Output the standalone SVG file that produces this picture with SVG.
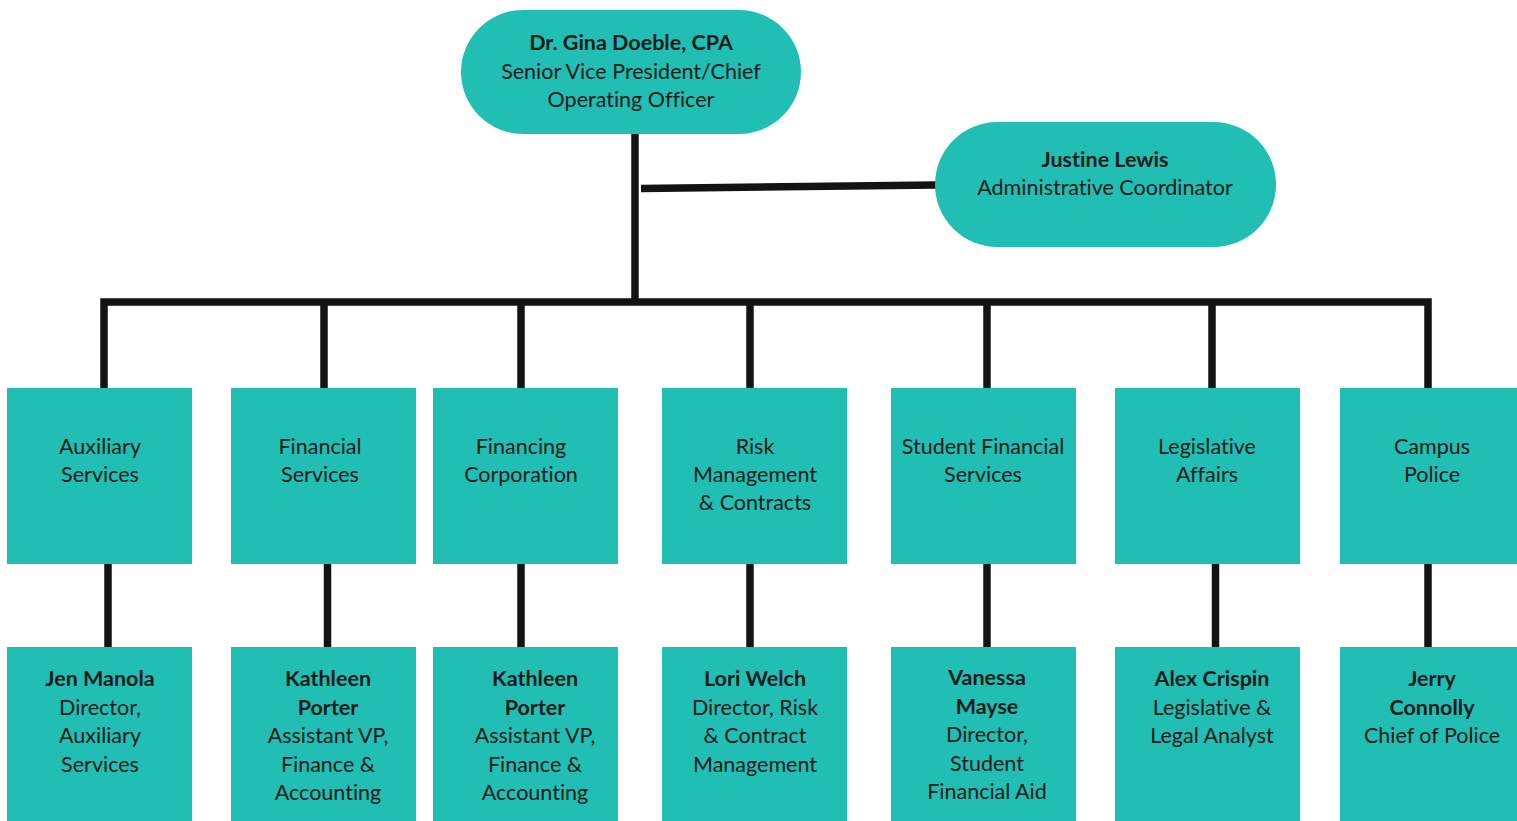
<svg xmlns="http://www.w3.org/2000/svg" width="1517" height="821" viewBox="0 0 1517 821">
<style>
.n{fill:#20beb3}
.t{font-family:Lato,"Open Sans","Liberation Sans",sans-serif;font-size:21.5px;fill:#141a1a;text-anchor:middle;font-variant-ligatures:none;font-feature-settings:"liga" 0}
.b{font-weight:bold}
.c{stroke:#131313;stroke-width:7.5;fill:none;stroke-linecap:butt}
</style>
<rect width="1517" height="821" fill="#fff"/>
<g id="connectors">
<line class="c" x1="635" y1="134" x2="635" y2="302"/>
<line class="c" x1="641" y1="188.5" x2="936" y2="185"/>
<polyline class="c" points="104,388 104,302 1428,302 1428,388"/>
<line class="c" x1="324" y1="302" x2="324" y2="388"/>
<line class="c" x1="521" y1="302" x2="521" y2="388"/>
<line class="c" x1="750" y1="302" x2="750" y2="388"/>
<line class="c" x1="987" y1="302" x2="987" y2="388"/>
<line class="c" x1="1212" y1="302" x2="1212" y2="388"/>
<line class="c" x1="108" y1="564" x2="108" y2="647"/>
<line class="c" x1="327.5" y1="564" x2="327.5" y2="647"/>
<line class="c" x1="521" y1="564" x2="521" y2="647"/>
<line class="c" x1="750" y1="564" x2="750" y2="647"/>
<line class="c" x1="987" y1="564" x2="987" y2="647"/>
<line class="c" x1="1215.5" y1="564" x2="1215.5" y2="647"/>
<line class="c" x1="1428" y1="564" x2="1428" y2="647"/>
</g>
<g id="gina">
<rect class="n" x="461" y="10" width="340" height="124" rx="62"/>
<text class="t b" x="631" y="50">Dr. Gina Doeble, CPA</text>
<text class="t" x="631" y="78.5">Senior Vice President/Chief</text>
<text class="t" x="631" y="107">Operating Officer</text>
</g>
<g id="justine">
<rect class="n" x="935" y="122" width="341" height="125" rx="62.5"/>
<text class="t b" x="1105" y="167">Justine Lewis</text>
<text class="t" x="1105" y="195">Administrative Coordinator</text>
</g>
<g id="aux">
<rect class="n" x="7" y="388" width="185" height="176"/>
<text class="t" x="100" y="454">Auxiliary</text>
<text class="t" x="100" y="482">Services</text>
</g>
<g id="finsvc">
<rect class="n" x="231" y="388" width="185" height="176"/>
<text class="t" x="320" y="454">Financial</text>
<text class="t" x="320" y="482">Services</text>
</g>
<g id="fincorp">
<rect class="n" x="433" y="388" width="185" height="176"/>
<text class="t" x="521" y="454">Financing</text>
<text class="t" x="521" y="482">Corporation</text>
</g>
<g id="risk">
<rect class="n" x="662" y="388" width="185" height="176"/>
<text class="t" x="755" y="454">Risk</text>
<text class="t" x="755" y="482">Management</text>
<text class="t" x="755" y="510">&amp; Contracts</text>
</g>
<g id="sfs">
<rect class="n" x="891" y="388" width="185" height="176"/>
<text class="t" x="983" y="454">Student Financial</text>
<text class="t" x="983" y="482">Services</text>
</g>
<g id="legis">
<rect class="n" x="1115" y="388" width="185" height="176"/>
<text class="t" x="1207" y="454">Legislative</text>
<text class="t" x="1207" y="482">Affairs</text>
</g>
<g id="police">
<rect class="n" x="1340" y="388" width="185" height="176"/>
<text class="t" x="1432" y="454">Campus</text>
<text class="t" x="1432" y="482">Police</text>
</g>
<g id="manola">
<rect class="n" x="7" y="647" width="185" height="180"/>
<text class="t b" x="100" y="686">Jen Manola</text>
<text class="t" x="100" y="714.5">Director,</text>
<text class="t" x="100" y="743">Auxiliary</text>
<text class="t" x="100" y="771.5">Services</text>
</g>
<g id="porter1">
<rect class="n" x="231" y="647" width="185" height="180"/>
<text class="t b" x="328" y="686">Kathleen</text>
<text class="t b" x="328" y="714.5">Porter</text>
<text class="t" x="328" y="743">Assistant VP,</text>
<text class="t" x="328" y="771.5">Finance &amp;</text>
<text class="t" x="328" y="800">Accounting</text>
</g>
<g id="porter2">
<rect class="n" x="433" y="647" width="185" height="180"/>
<text class="t b" x="535" y="686">Kathleen</text>
<text class="t b" x="535" y="714.5">Porter</text>
<text class="t" x="535" y="743">Assistant VP,</text>
<text class="t" x="535" y="771.5">Finance &amp;</text>
<text class="t" x="535" y="800">Accounting</text>
</g>
<g id="welch">
<rect class="n" x="662" y="647" width="185" height="180"/>
<text class="t b" x="755" y="686">Lori Welch</text>
<text class="t" x="755" y="714.5">Director, Risk</text>
<text class="t" x="755" y="743">&amp; Contract</text>
<text class="t" x="755" y="771.5">Management</text>
</g>
<g id="mayse">
<rect class="n" x="891" y="647" width="185" height="180"/>
<text class="t b" x="987" y="685">Vanessa</text>
<text class="t b" x="987" y="713.5">Mayse</text>
<text class="t" x="987" y="742">Director,</text>
<text class="t" x="987" y="770.5">Student</text>
<text class="t" x="987" y="799">Financial Aid</text>
</g>
<g id="crispin">
<rect class="n" x="1115" y="647" width="185" height="180"/>
<text class="t b" x="1212" y="686">Alex Crispin</text>
<text class="t" x="1212" y="714.5">Legislative &amp;</text>
<text class="t" x="1212" y="743">Legal Analyst</text>
</g>
<g id="connolly">
<rect class="n" x="1340" y="647" width="185" height="180"/>
<text class="t b" x="1432" y="686">Jerry</text>
<text class="t b" x="1432" y="714.5">Connolly</text>
<text class="t" x="1432" y="743">Chief of Police</text>
</g>
</svg>
